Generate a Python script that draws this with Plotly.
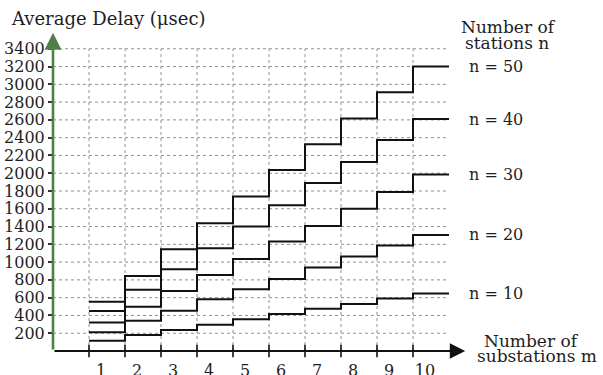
import plotly.graph_objects as go

# Data
m_values = [1, 2, 3, 4, 5, 6, 7, 8, 9, 10]
n_labels = ["n = 10", "n = 20", "n = 30", "n = 40", "n = 50"]
delay_n10 = [115, 180, 236, 296, 357, 417, 475, 530, 590, 648]
delay_n20 = [210, 341, 454, 582, 695, 811, 938, 1062, 1186, 1306]
delay_n30 = [320, 499, 676, 856, 1036, 1231, 1405, 1600, 1790, 1985]
delay_n40 = [450, 690, 920, 1157, 1400, 1640, 1890, 2125, 2375, 2610]
delay_n50 = [555, 845, 1145, 1438, 1738, 2035, 2325, 2615, 2910, 3200]
y_ticks = list(range(200, 3401, 200))

series = [delay_n10, delay_n20, delay_n30, delay_n40, delay_n50]

FONT = "DejaVu Serif"
TXT = "#1e1e1e"
GREEN = "#4f8048"

W, H = 603, 375
ML, MR, MT, MB = 53, 136, 31, 24
PW, PH = W - ML - MR, H - MT - MB


def px(xp):
    return (xp - ML) / PW


def py(yp):
    return (H - MB - yp) / PH


fig = go.Figure()

x_step = m_values + [m_values[-1] + 1]
for label, vals in zip(n_labels, series):
    fig.add_trace(go.Scatter(
        x=x_step, y=vals + [vals[-1]], mode="lines", line_shape="hv",
        line=dict(color="#111111", width=2), name=label, showlegend=False,
        hoverinfo="skip"))

# tick crosses on x axis
fig.add_trace(go.Scatter(
    x=m_values, y=[0] * len(m_values), mode="markers",
    marker=dict(symbol="line-ns-open", size=9, color="#111111",
                line=dict(color="#111111", width=1.6)),
    showlegend=False, cliponaxis=False, hoverinfo="skip"))

shapes = []
x_end = m_values[-1] + 1
for yv in y_ticks:
    shapes.append(dict(type="line", xref="x", yref="y", x0=0, x1=x_end, y0=yv, y1=yv,
                       line=dict(color="#8f8f8f", width=1, dash="dot"), layer="below"))
for mv in m_values:
    shapes.append(dict(type="line", xref="x", yref="y", x0=mv, x1=mv, y0=0, y1=y_ticks[-1],
                       line=dict(color="#8f8f8f", width=1, dash="dot"), layer="below"))

annotations = []
# axis arrows
annotations.append(dict(x=11.45, y=0, ax=0, ay=0, xref="x", yref="y", axref="x", ayref="y",
                        showarrow=True, arrowhead=2, arrowsize=1.4, arrowwidth=2.2,
                        arrowcolor="#111111", text=""))
annotations.append(dict(x=0, y=3580, ax=0, ay=0, xref="x", yref="y", axref="x", ayref="y",
                        showarrow=True, arrowhead=2, arrowsize=1.3, arrowwidth=2.6,
                        arrowcolor=GREEN, text=""))
# series labels at the end values
for label, vals in zip(n_labels, series):
    annotations.append(dict(x=11.5, y=vals[-1], xref="x", yref="y", text=label,
                            showarrow=False, xanchor="left", yanchor="middle",
                            font=dict(family=FONT, size=16, color=TXT)))
# side texts
side = [("Number of", 508, 27), ("stations n", 507, 43),
        ("Number of", 531, 341), ("substations m", 537, 356)]
for text, xp, yp in side:
    annotations.append(dict(x=px(xp), y=py(yp), xref="paper", yref="paper", text=text,
                            showarrow=False, xanchor="center", yanchor="middle",
                            font=dict(family=FONT, size=17, color=TXT)))

fig.update_layout(
    width=W, height=H,
    margin=dict(l=ML, r=MR, t=MT, b=MB),
    paper_bgcolor="white", plot_bgcolor="white",
    shapes=shapes, annotations=annotations,
    title=dict(text="Average Delay (μsec)", x=12 / W, xanchor="left", xref="container",
               y=1 - 19 / H, yanchor="middle", yref="container",
               font=dict(family=FONT, size=18, color=TXT)),
    xaxis=dict(range=[0, 11.5], showgrid=False, zeroline=False, showline=False,
               tickvals=m_values, ticktext=[str(v) for v in m_values], ticks="",
               ticklabelshift=12, ticklabelstandoff=8, automargin=False,
               tickfont=dict(family=FONT, size=16, color=TXT)),
    yaxis=dict(range=[0, 3600], showgrid=False, zeroline=False, showline=False,
               tickvals=y_ticks, ticks="outside", ticklen=4, tickwidth=1.5,
               tickcolor="#333333", ticklabelstandoff=0, automargin=False,
               tickfont=dict(family=FONT, size=16, color=TXT)),
)

fig.write_html("out.html", config={"displayModeBar": False},
               post_script="document.body.style.margin='0';")
